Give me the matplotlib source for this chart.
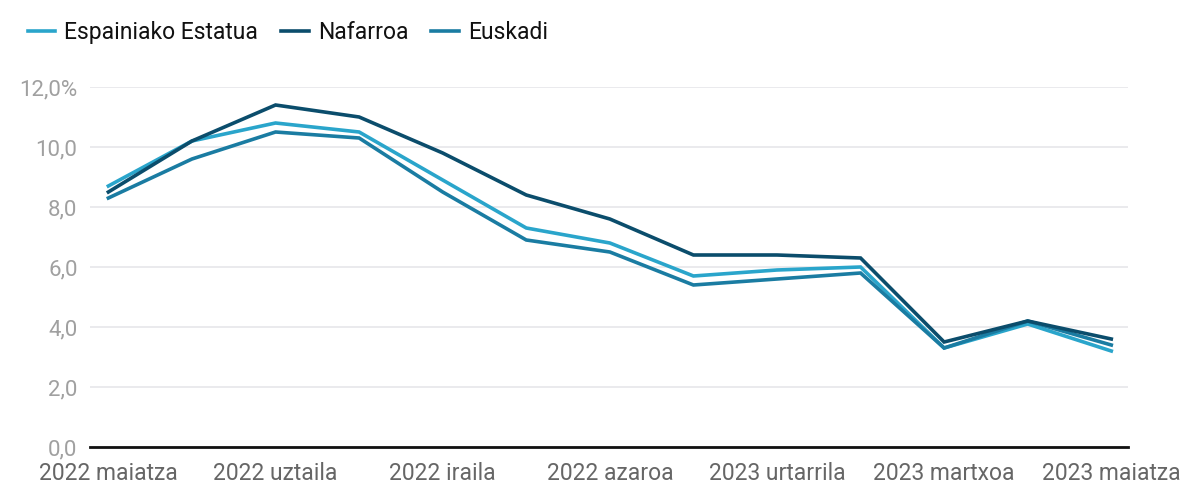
import matplotlib
matplotlib.use("Agg")
import matplotlib.pyplot as plt

months = ["2022 maiatza", "2022 ekaina", "2022 uztaila", "2022 abuztua", "2022 iraila",
          "2022 urria", "2022 azaroa", "2022 abendua", "2023 urtarrila", "2023 otsaila",
          "2023 martxoa", "2023 apirila", "2023 maiatza"]
espainia = [8.7, 10.2, 10.8, 10.5, 8.9, 7.3, 6.8, 5.7, 5.9, 6.0, 3.3, 4.1, 3.2]
nafarroa = [8.5, 10.2, 11.4, 11.0, 9.8, 8.4, 7.6, 6.4, 6.4, 6.3, 3.5, 4.2, 3.6]
euskadi = [8.3, 9.6, 10.5, 10.3, 8.5, 6.9, 6.5, 5.4, 5.6, 5.8, 3.3, 4.2, 3.4]
yticks = [0, 2, 4, 6, 8, 10, 12]
ytick_labels = ["0,0", "2,0", "4,0", "6,0", "8,0", "10,0", "12,0%"]

plt.rcParams['font.family'] = ['Roboto', 'DejaVu Sans']

fig = plt.figure(figsize=(12, 5), dpi=100)
ax = fig.add_axes([0.075, 0.106, 0.865, 0.72])

x = list(range(len(months)))
c_light = "#2aa5cb"
c_dark = "#0b4d6c"
c_mid = "#1a7ca2"
ax.plot(x, espainia, color=c_light, lw=2.6, label="Espainiako Estatua", solid_joinstyle='miter', zorder=3)
ax.plot(x, nafarroa, color=c_dark, lw=2.6, label="Nafarroa", solid_joinstyle='miter', zorder=4)
ax.plot(x, euskadi, color=c_mid, lw=2.6, label="Euskadi", solid_joinstyle='miter', zorder=3)

ax.set_xlim(-0.22, 12.2)
ax.set_ylim(0, 12)
ax.set_yticks(yticks)
ax.set_yticklabels(ytick_labels)
ax.set_xticks(x[::2])
ax.set_xticklabels(months[::2])

for s in ["top", "right", "left"]:
    ax.spines[s].set_visible(False)
ax.spines["bottom"].set_color("#111111")
ax.spines["bottom"].set_linewidth(2)
ax.spines["bottom"].set_zorder(5)
ax.grid(axis='y', color="#e6e6ea", lw=1.2)
ax.set_axisbelow(True)
ax.tick_params(axis='y', length=0, pad=9, labelsize=16, labelcolor="#a0a0a0")
ax.tick_params(axis='x', length=0, pad=11, labelsize=16.5, labelcolor="#666666")
for lbl in ax.get_yticklabels():
    lbl.set_verticalalignment('center_baseline')

leg = fig.legend(loc="upper left", bbox_to_anchor=(0.006, 1.0), ncol=3, frameon=False,
                 fontsize=16.5, handlelength=1.2, handletextpad=0.4, columnspacing=1.0)
for t in leg.get_texts():
    t.set_color("#111111")

fig.savefig("out.png", dpi=100, facecolor="white")
